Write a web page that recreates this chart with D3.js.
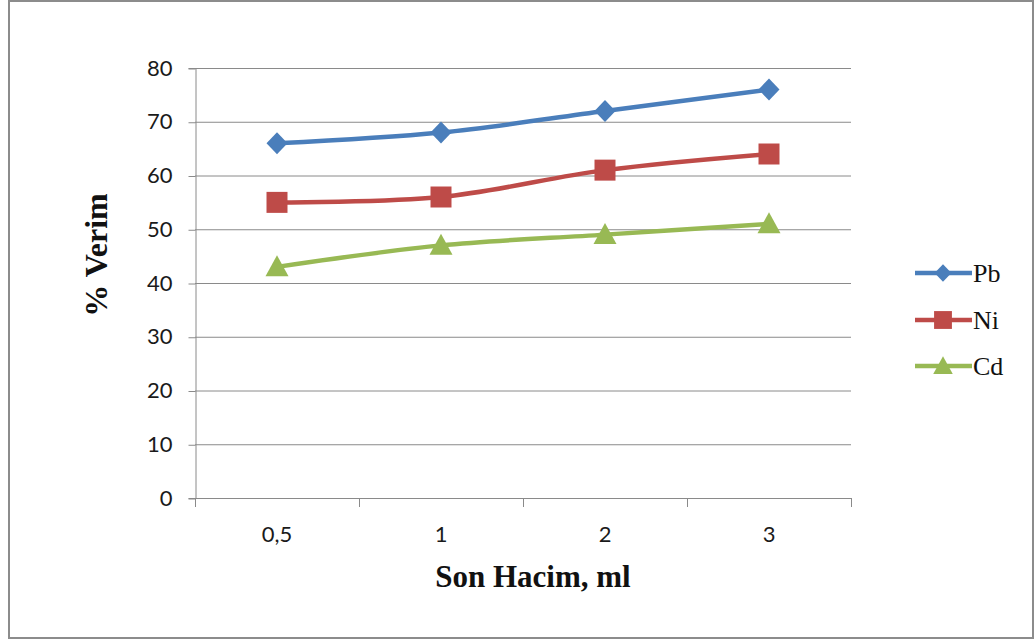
<!DOCTYPE html>
<html><head><meta charset="utf-8">
<script src="https://cdn.jsdelivr.net/npm/d3@7"></script>
<style>body{margin:0;background:#fff;}svg{display:block;}</style>
</head><body>
<svg id="c" width="1035" height="641"></svg>
<script>
const categories = ["0,5", "1", "2", "3"];
const pb = [66, 68, 72, 76];
const ni = [55, 56, 61, 64];
const cd = [43, 47, 49, 51];
const yTicks = [0, 10, 20, 30, 40, 50, 60, 70, 80];
const seriesNames = ["Pb", "Ni", "Cd"];
const seriesColors = ["#4A7EBB", "#BE4B48", "#98B954"];
const seriesData = [pb, ni, cd];

function marker(k, s) {
  if (k === 0) { const w = 10.5 * s, h = 11 * s; return `M0,${-h}L${w},0L0,${h}L${-w},0Z`; }
  if (k === 1) { const a = 10.5 * s; return `M${-a},${-a}H${a}V${a}H${-a}Z`; }
  const w = 11.5 * s, h = 21 * s; return `M0,${-h * 0.55}L${w},${h * 0.45}L${-w},${h * 0.45}Z`;
}

const svg = d3.select("#c");
svg.append("rect").attr("x", 9).attr("y", 1).attr("width", 1024).attr("height", 637)
  .attr("fill", "#fff").attr("stroke", "#8c8c8c").attr("stroke-width", 2);

const L = 195, R = 851, T = 68, B = 498;
const x = d3.scaleBand().domain(categories).range([L, R]);
const y = d3.scaleLinear().domain([0, 80]).range([B, T]);
const tickFont = "Lato, 'Open Sans', sans-serif";
const serif = "'Liberation Serif', 'Times New Roman', serif";

svg.append("g").selectAll("line").data(yTicks).join("line")
  .attr("x1", L).attr("x2", R).attr("y1", d => y(d) + 0.5).attr("y2", d => y(d) + 0.5)
  .attr("stroke", "#8a8a8a").attr("stroke-width", 1);

const ya = svg.append("g").attr("transform", `translate(${L + 0.5},0)`)
  .call(d3.axisLeft(y).tickValues(yTicks).tickSize(7).tickPadding(16).tickFormat(d3.format("d")));
ya.select(".domain").attr("stroke", "#8a8a8a");
ya.selectAll(".tick line").attr("stroke", "#8a8a8a").attr("transform", "translate(0,0.5)");
ya.selectAll("text").attr("font-family", tickFont).attr("font-size", 22).attr("fill", "#1a1a1a");

const xa = svg.append("g").attr("transform", `translate(0,${B + 0.5})`)
  .call(d3.axisBottom(x).tickSize(0).tickPadding(28));
xa.select(".domain").remove();
xa.selectAll("text").attr("font-family", tickFont).attr("font-size", 22).attr("fill", "#1a1a1a");
const bounds = categories.map(c => x(c)).concat([x(categories[categories.length - 1]) + x.bandwidth()]);
svg.append("g").selectAll("line").data(bounds).join("line")
  .attr("x1", d => Math.round(d) + 0.5).attr("x2", d => Math.round(d) + 0.5)
  .attr("y1", B).attr("y2", B + 9).attr("stroke", "#8a8a8a");

const cx = c => x(c) + x.bandwidth() / 2;
const line = d3.line().x((d, i) => cx(categories[i])).y(d => y(d)).curve(d3.curveCatmullRom.alpha(0.5));

seriesData.forEach((s, k) => {
  svg.append("path").attr("d", line(s)).attr("fill", "none")
    .attr("stroke", seriesColors[k]).attr("stroke-width", 4.5).attr("stroke-linejoin", "round");
  svg.append("g").selectAll("path").data(s).join("path")
    .attr("d", marker(k, 1))
    .attr("transform", (d, i) => `translate(${cx(categories[i])},${y(d)})`)
    .attr("fill", seriesColors[k]);
});

const legY = [273, 320, 366];
seriesNames.forEach((n, k) => {
  const g = svg.append("g").attr("transform", `translate(0,${legY[k]})`);
  g.append("line").attr("x1", 915).attr("x2", 972).attr("y1", 0).attr("y2", 0)
    .attr("stroke", seriesColors[k]).attr("stroke-width", 4.5);
  g.append("path").attr("d", marker(k, k === 0 ? 0.8 : 0.85))
    .attr("transform", `translate(943,0)`).attr("fill", seriesColors[k]);
  g.append("text").attr("x", 973).attr("y", 9).text(n)
    .attr("font-family", serif).attr("font-size", 26).attr("fill", "#111");
});

svg.append("text").attr("x", 533).attr("y", 587).attr("text-anchor", "middle")
  .attr("font-family", serif).attr("font-weight", "bold")
  .attr("font-size", 31).attr("fill", "#111").text("Son Hacim, ml");
svg.append("text").attr("transform", "translate(107,255) rotate(-90)").attr("text-anchor", "middle")
  .attr("font-family", serif).attr("font-weight", "bold")
  .attr("font-size", 32).attr("fill", "#111").text("% Verim");
</script>
</body></html>
